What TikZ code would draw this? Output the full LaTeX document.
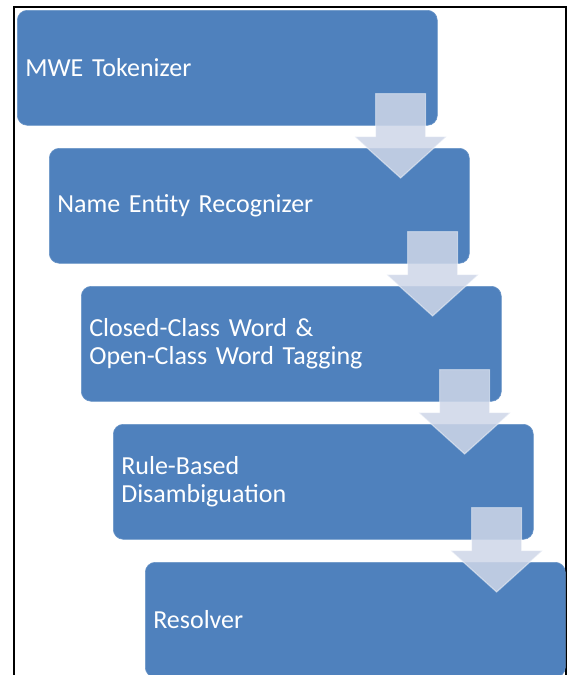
\documentclass[tikz,border=0pt]{standalone}
\usepackage{fontspec}
\setmainfont{Carlito}
\usetikzlibrary{calc}
\definecolor{boxblue}{RGB}{79,129,189}
\definecolor{arrowfill}{RGB}{206,214,232}
\tikzset{
  stepbox/.style={rectangle, rounded corners=10pt, fill=boxblue, draw=boxblue!85!white, line width=0.6pt,
    minimum width=420pt, minimum height=115pt, anchor=north west, text=white,
    text width=404pt, align=left, inner xsep=8pt, inner ysep=0pt,
    font=\fontsize{26}{28.5}\selectfont},
  downarrow/.style={fill=arrowfill, fill opacity=0.86, draw=white, draw opacity=0.45, line width=1.2pt}
}
\begin{document}
\begin{tikzpicture}[x=1pt,y=-1pt]
\useasboundingbox (0,0) rectangle (571,675);
\draw[line width=1.4pt] (14,680) -- (14,7) -- (566,7) -- (566,680);
\node[stepbox] (b1) at (17,10) {MWE Tokenizer};
\node[stepbox] (b2) at (49,148) {Name Entity Recognizer};
\node[stepbox] (b3) at (81,286) {Closed-Class Word \&\\Open-Class Word Tagging};
\node[stepbox] (b4) at (113,424) {Rule-Based\\Disambiguation};
\node[stepbox] (b5) at (145,562) {Resolver};
\foreach \a/\b in {b1/b2,b2/b3,b3/b4,b4/b5}{
  \coordinate (c) at ($(\a.south east)+(-37,0)$);
  \coordinate (t) at ($(c |- \b.north)+(0,30)$);
  \draw[downarrow] ($(c)+(-25,-32)$) -- ($(c)+(25,-32)$) -- ($(c)+(25,11)$) -- ($(c)+(46,11)$)
    -- (t) -- ($(c)+(-46,11)$) -- ($(c)+(-25,11)$) -- cycle;
}
\end{tikzpicture}
\end{document}
